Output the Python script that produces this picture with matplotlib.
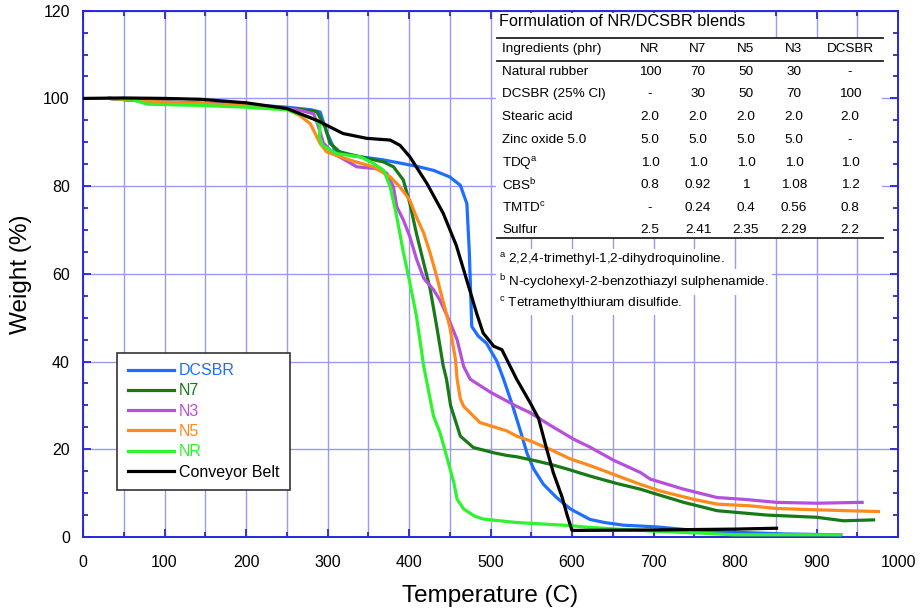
import matplotlib
matplotlib.use('Agg')
import matplotlib.pyplot as plt
from matplotlib.patches import Rectangle
from matplotlib.lines import Line2D
from matplotlib.ticker import MultipleLocator

plt.rcParams['font.family'] = ['Liberation Sans', 'DejaVu Sans']
plt.rcParams['mathtext.fontset'] = 'custom'
plt.rcParams['mathtext.rm'] = 'Liberation Sans'

# TGA curves: temperature (C) and weight (%)
blue_T = [33, 80, 150, 200, 250, 280, 291, 299, 309, 328, 368, 410, 430, 450, 463, 471, 474, 477, 485, 495, 508, 516, 527, 536, 545, 553, 565, 581, 598, 622, 640, 663, 704, 757, 798, 860, 930]
blue_W = [100, 99.3, 98.9, 98.6, 98.0, 97.4, 96.9, 92.3, 88.2, 87.0, 86.0, 84.5, 83.6, 82.1, 80.2, 76, 65, 48, 45.8, 44.2, 40, 36, 30, 24.6, 19, 15.5, 12, 9, 6.4, 4, 3.3, 2.7, 2.3, 1.4, 1.1, 0.7, 0.5]

n7_T = [33, 80, 150, 200, 250, 280, 287, 297, 303, 315, 340, 369, 381, 393, 401, 409, 416, 426, 434, 442, 446, 451, 463, 479, 504, 520, 532, 557, 573, 594, 622, 655, 684, 696, 737, 778, 839, 900, 933, 970]
n7_W = [100, 99.3, 98.8, 98.5, 97.8, 97.2, 96.9, 93.5, 89.8, 87.8, 86.7, 85.5, 84.4, 81.4, 76.1, 69.3, 64, 56.5, 48, 39, 36, 30, 23, 20.4, 19.2, 18.6, 18.3, 17.3, 16.6, 15.5, 13.9, 12.2, 10.9, 10.2, 7.9, 6, 5, 4.5, 3.7, 3.9]

n3_T = [33, 80, 150, 200, 250, 266, 283, 289, 295, 307, 336, 360, 373, 381, 385, 393, 401, 409, 418, 430, 438, 449, 459, 467, 475, 479, 500, 532, 549, 573, 602, 622, 651, 684, 696, 737, 778, 810, 851, 900, 956]
n3_W = [100, 99.3, 98.8, 98.5, 97.8, 97.3, 96.5, 93.5, 89.8, 87.5, 84.4, 84, 82.9, 79.8, 75.3, 72.3, 68.5, 63.5, 59, 56.4, 54, 49.5, 45, 38.9, 36, 35.5, 33, 29.8, 28.3, 25.5, 22.3, 20.5, 17.5, 14.7, 13.2, 10.9, 9, 8.6, 7.9, 7.7, 7.9]

n5_T = [33, 80, 150, 200, 250, 266, 279, 283, 291, 299, 328, 356, 377, 389, 401, 409, 418, 426, 434, 440, 450, 457, 459, 463, 467, 487, 520, 532, 549, 573, 598, 622, 655, 684, 708, 749, 778, 819, 851, 900, 976]
n5_W = [100, 99.3, 98.8, 98.4, 97.6, 96.1, 94.2, 92.7, 89.7, 87.8, 85.9, 84.4, 82.1, 79.8, 76.8, 73, 69.3, 64.7, 59.4, 55, 48, 40.5, 36, 31.5, 29.8, 26.1, 24.2, 23, 21.9, 20, 17.8, 16.3, 14, 12, 10.5, 8.6, 7.5, 7.1, 6.5, 6.2, 5.8]

nr_T = [33, 60, 78, 144, 200, 250, 262, 283, 291, 290, 294, 311, 340, 356, 369, 377, 385, 393, 401, 409, 418, 430, 438, 446, 455, 459, 467, 480, 491, 532, 598, 614, 655, 716, 757, 798, 929]
nr_W = [100, 99.8, 98.7, 98.4, 98, 97.4, 96.6, 95.4, 93.9, 91.2, 89.3, 87.4, 86.7, 85.2, 83.6, 79.8, 73, 65, 58, 50.5, 39, 27.6, 23.8, 18.5, 12.4, 8.6, 6.4, 4.8, 4.1, 3.3, 2.6, 2.3, 1.8, 1.2, 0.9, 0.5, 0.5]

belt_T = [0, 50, 100, 144, 200, 250, 287, 319, 348, 377, 389, 401, 422, 442, 458, 475, 483, 491, 504, 514, 532, 549, 559, 569, 577, 588, 594, 600, 700, 800, 851]
belt_W = [100, 100.1, 100, 99.8, 99.0, 97.7, 95, 92, 90.9, 90.5, 89.3, 86.7, 80.6, 73.8, 66.5, 56, 51, 46.5, 43.5, 42.7, 36, 30.5, 27, 20, 14.7, 9, 5, 1.5, 1.6, 1.8, 2.0]

# formulation table
tbl_title = 'Formulation of NR/DCSBR blends'
tbl_cols = ['NR', 'N7', 'N5', 'N3', 'DCSBR']
tbl_rows = ['Natural rubber', 'DCSBR (25% Cl)', 'Stearic acid', 'Zinc oxide 5.0',
            r'TDQ$^{\mathrm{a}}$', r'CBS$^{\mathrm{b}}$', r'TMTD$^{\mathrm{c}}$', 'Sulfur']
tbl_vals = [['100', '70', '50', '30', '-'],
            ['-', '30', '50', '70', '100'],
            ['2.0', '2.0', '2.0', '2.0', '2.0'],
            ['5.0', '5.0', '5.0', '5.0', '-'],
            ['1.0', '1.0', '1.0', '1.0', '1.0'],
            ['0.8', '0.92', '1', '1.08', '1.2'],
            ['-', '0.24', '0.4', '0.56', '0.8'],
            ['2.5', '2.41', '2.35', '2.29', '2.2']]
tbl_notes = [('a', '2,2,4-trimethyl-1,2-dihydroquinoline.'),
             ('b', 'N-cyclohexyl-2-benzothiazyl sulphenamide.'),
             ('c', 'Tetramethylthiuram disulfide.')]

W, H = 923, 608
fig = plt.figure(figsize=(W / 100, H / 100), dpi=100)
ax = fig.add_axes([83 / W, 1 - 537 / H, 815 / W, 526.3 / H])

spine_col = '#2828d8'
grid_col = '#9a9af0'

series = [(blue_T, blue_W, '#1f6fff', 'DCSBR'),
          (n7_T, n7_W, '#177a17', 'N7'),
          (n3_T, n3_W, '#b650dc', 'N3'),
          (n5_T, n5_W, '#ff8a1c', 'N5'),
          (nr_T, nr_W, '#2df52d', 'NR'),
          (belt_T, belt_W, 'black', 'Conveyor Belt')]
handles = []
for T, Wt, c, lab in series:
    ln, = ax.plot(T, Wt, color=c, lw=2.3, label=lab, zorder=3)
    handles.append(ln)

ax.set_xlim(0, 1000)
ax.set_ylim(0, 120)
ax.xaxis.set_major_locator(MultipleLocator(100))
ax.xaxis.set_minor_locator(MultipleLocator(50))
ax.yaxis.set_major_locator(MultipleLocator(20))
ax.yaxis.set_minor_locator(MultipleLocator(5))
ax.set_axisbelow(True)
ax.grid(True, which='major', color=grid_col, lw=1.0)
ax.xaxis.grid(True, which='minor', color=grid_col, lw=1.0)
ax.tick_params(which='both', direction='in', top=True, right=True, color=spine_col,
               labelsize=11.5, width=1.3)
ax.tick_params(which='major', length=6)
ax.tick_params(which='minor', length=3.5)
ax.tick_params(axis='x', which='major', pad=13)
ax.tick_params(axis='y', which='major', pad=9.5)
for s in ax.spines.values():
    s.set_color(spine_col)
    s.set_linewidth(1.4)

ax.set_xlabel('Temperature (C)', fontsize=17.5, labelpad=11)
ax.set_ylabel('Weight (%)', fontsize=17.5, labelpad=8)

leg = ax.legend(handles=handles, loc='upper left', bbox_to_anchor=(0.042, 0.35),
                borderaxespad=0, fancybox=False, edgecolor='#333333', fontsize=11.5,
                handlelength=2.9, handletextpad=0.3, labelspacing=0.33, borderpad=0.65,
                framealpha=1)
leg.get_frame().set_linewidth(1.2)
for txt, (_, _, c, _) in zip(leg.get_texts(), series):
    txt.set_color(c)


def fp(x, y):
    return (x / W, 1 - y / H)


tf = fig.transFigure
# white backgrounds for table
ax.add_patch(Rectangle(fp(496, 238), 386 / W, 200 / H, transform=tf, facecolor='white',
                       edgecolor='none', zorder=1))
ax.add_patch(Rectangle(fp(496, 37), 252 / W, 24 / H, transform=tf, facecolor='white',
                       edgecolor='none', zorder=1))

fig.text(*fp(499, 22), tbl_title, fontsize=11.7, va='center', ha='left', zorder=5)
for y in (38, 61, 238):
    fig.add_artist(Line2D([497 / W, 883 / W], [1 - y / H, 1 - y / H], color='#222222', lw=1.3))

col_x = [650, 698, 746, 794, 850]
fig.text(*fp(502, 49), 'Ingredients (phr)', fontsize=9.7, va='center', ha='left')
for cx, name in zip(col_x, tbl_cols):
    fig.text(*fp(cx, 49), name, fontsize=9.7, va='center', ha='center')
row_y = [72, 94, 117, 140, 163, 185, 208, 230]
for ry, name, vals in zip(row_y, tbl_rows, tbl_vals):
    fig.text(*fp(502, ry), name, fontsize=9.7, va='center', ha='left')
    for cx, v in zip(col_x, vals):
        fig.text(*fp(cx, ry), v, fontsize=9.7, va='center', ha='center')

for ny, (sup, note) in zip([260, 282, 304], tbl_notes):
    fig.text(*fp(499, ny), r'$^{\mathrm{%s}}$ ' % sup + note, fontsize=9.7, va='center', ha='left',
             bbox=dict(facecolor='white', edgecolor='none', pad=2))

fig.savefig('out.png', dpi=100)
